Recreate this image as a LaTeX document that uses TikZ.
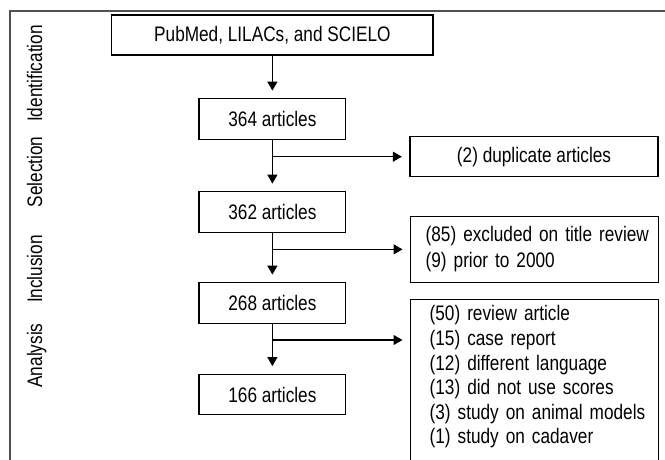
\documentclass[tikz,border=0pt]{standalone}
\usepackage{fontspec}
\setmainfont{Liberation Sans}[FakeStretch=0.82]
\usetikzlibrary{arrows.meta,calc}
\definecolor{frameGray}{HTML}{505050}
\newcommand{\lnstrut}{\rule[-4.5pt]{0pt}{19.5pt}}
\newcommand{\rline}[1]{\mbox{\lnstrut#1}}
\begin{document}
\begin{tikzpicture}[x=1pt,y=-1pt,
  every node/.style={font=\fontsize{21}{24.6}\selectfont},
  box/.style={draw=black, line width=1.3pt, minimum width=146.7pt, minimum height=40.5pt, inner sep=0pt},
  rbox/.style={draw=black, line width=1.3pt, anchor=north west, align=left},
  arr/.style={line width=1.3pt, -{Triangle[length=9pt,width=10pt]}, shorten >=7.5pt},
  side/.style={rotate=90, anchor=base}]
\useasboundingbox (0,0) rectangle (665,459);
\begin{scope}
\clip (0,0) rectangle (665,459);
\draw[line width=2pt, draw=frameGray] (9.5,11) rectangle (700,500);
\node[box, minimum width=321.3pt, minimum height=40pt] (src) at (272.4,35) {PubMed, LILACs, and SCIELO};
\node[box] (a364) at (272.4,119) {364 articles};
\node[box] (a362) at (272.4,212) {362 articles};
\node[box] (a268) at (272.4,303) {268 articles};
\node[box] (a166) at (272.4,394.5) {166 articles};
\node[box, minimum width=248pt, minimum height=40pt] (dup) at (534,156.7) {(2) duplicate articles};
\node[rbox, font=\fontsize{21}{26}\selectfont, inner xsep=15pt, inner ysep=0pt, text width=218pt, minimum height=66pt] (exc) at (410,215.7)
  {\rline{(85) excluded on title review}\\\rline{(9) prior to 2000}};
\node[rbox, inner xsep=19pt, inner ysep=6pt, text width=210pt] (rev) at (410,299)
  {\rline{(50) review article}\\
   \rline{(15) case report}\\
   \rline{(12) different language}\\
   \rline{(13) did not use scores}\\
   \rline{(3) study on animal models}\\
   \rline{\rule[-40pt]{0pt}{1pt}(1) study on cadaver}};
\draw[arr] (src) -- (a364);
\draw[arr] (a364) -- (a362);
\draw[arr] (a362) -- (a268);
\draw[arr] (a268) -- (a166);
\draw[arr] (a364.south |- dup.west) -- (dup.west);
\draw[arr] (a362.south |- exc.west) -- (exc.west);
\coordinate (b3) at (272.4,340);
\draw[arr] (b3) -- (b3 -| rev.west);
\node[side] (lid) at (42,73.5) {Identification};
\node[side] (lsel) at (42,172) {Selection};
\node[side] (linc) at (42,269) {Inclusion};
\node[side] (lana) at (42,355.5) {Analysis};
\end{scope}
\end{tikzpicture}
\end{document}
